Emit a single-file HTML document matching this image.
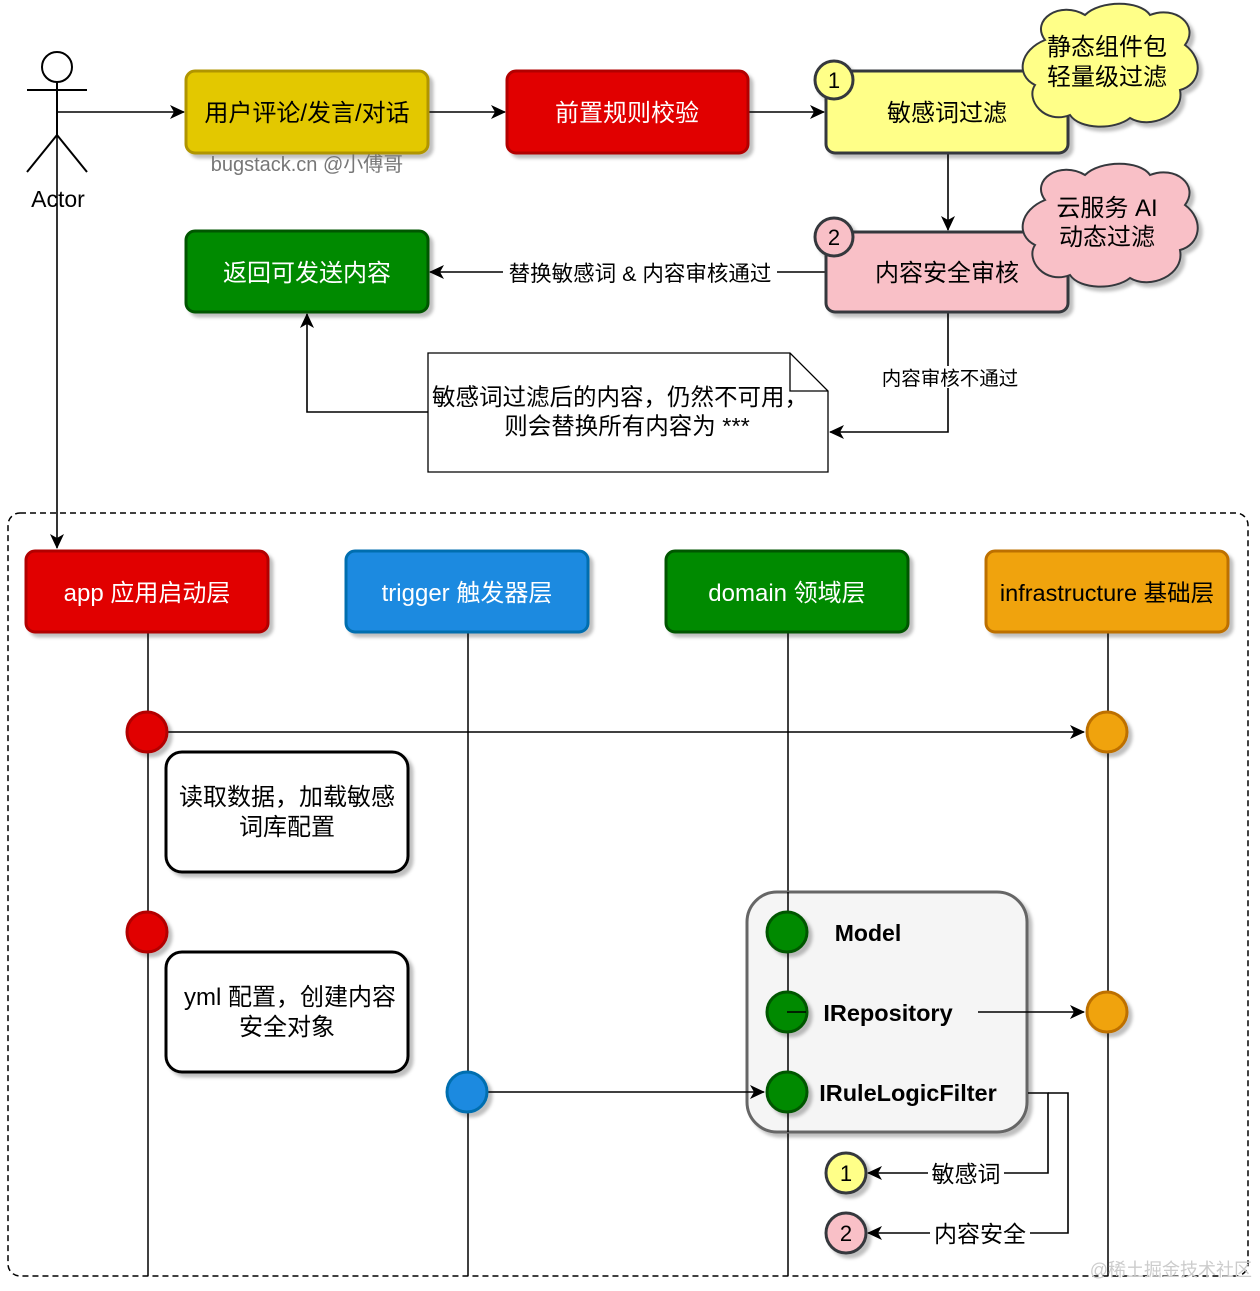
<!DOCTYPE html>
<html><head><meta charset="utf-8"><style>
body{margin:0;background:#fff}
text{font-family:"Liberation Sans","Noto Sans CJK SC",sans-serif}
</style></head><body>
<svg width="1260" height="1286" viewBox="0 0 1260 1286" xmlns="http://www.w3.org/2000/svg">
<defs>
<filter id="sh" x="-20%" y="-20%" width="150%" height="150%"><feDropShadow dx="4" dy="4" stdDeviation="1.5" flood-color="#000" flood-opacity="0.25"/></filter>
<marker id="ar" markerWidth="16" markerHeight="16" refX="14" refY="8" orient="auto" markerUnits="userSpaceOnUse"><path d="M0,1 L15,8 L0,15 L4,8 Z" fill="#000"/></marker>
</defs>
<g stroke="#000" stroke-width="2" fill="none">
<circle cx="57" cy="67" r="15" fill="#fff"/>
<line x1="57" y1="82" x2="57" y2="135"/>
<line x1="27" y1="90" x2="87" y2="90"/>
<line x1="57" y1="135" x2="27" y2="172"/>
<line x1="57" y1="135" x2="87" y2="172"/>
</g>
<text x="58" y="207" font-size="23" text-anchor="middle">Actor</text>
<g stroke="#000" stroke-width="1.6" fill="none">
<line x1="57" y1="112" x2="184" y2="112" marker-end="url(#ar)"/>
<line x1="57" y1="135" x2="57" y2="548" marker-end="url(#ar)"/>
<line x1="428" y1="112" x2="505" y2="112" marker-end="url(#ar)"/>
<line x1="748" y1="112" x2="824" y2="112" marker-end="url(#ar)"/>
<line x1="948" y1="153" x2="948" y2="230" marker-end="url(#ar)"/>
<line x1="826" y1="272" x2="430" y2="272" marker-end="url(#ar)"/>
<polyline points="948,312 948,432 830,432" marker-end="url(#ar)"/>
<polyline points="428,412 307,412 307,314" marker-end="url(#ar)"/>
</g>
<g filter="url(#sh)" stroke-width="3">
<rect x="186" y="71" width="242" height="82" rx="9" fill="#e3c800" stroke="#b09500"/>
<rect x="507" y="71" width="241" height="82" rx="9" fill="#e10000" stroke="#b20000"/>
<rect x="826" y="71" width="242" height="82" rx="9" fill="#ffff88" stroke="#36393d"/>
<rect x="826" y="232" width="242" height="80" rx="9" fill="#f9c0c7" stroke="#36393d"/>
<rect x="186" y="231" width="242" height="81" rx="9" fill="#008a00" stroke="#005700"/>
<path d="M1045,40 C1030,20 1060,0 1085,15 C1100,0 1140,0 1150,15 C1175,5 1200,25 1185,45 C1205,60 1200,85 1180,90 C1185,115 1150,130 1130,118 C1115,130 1080,130 1070,115 C1045,125 1025,100 1035,85 C1015,75 1020,50 1045,40 Z" fill="#ffff88" stroke="#36393d" stroke-width="2"/>
<path d="M1045,200 C1030,180 1060,160 1085,175 C1100,160 1140,160 1150,175 C1175,165 1200,185 1185,205 C1205,220 1200,245 1180,250 C1185,275 1150,290 1130,278 C1115,290 1080,290 1070,275 C1045,285 1025,260 1035,245 C1015,235 1020,210 1045,200 Z" fill="#f9c0c7" stroke="#36393d" stroke-width="2"/>
<circle cx="834" cy="80" r="19" fill="#ffff88" stroke="#36393d"/>
<circle cx="834" cy="237" r="19" fill="#f9c0c7" stroke="#36393d"/>
</g>
<text x="307" y="121" font-size="24" text-anchor="middle" fill="#000">用户评论/发言/对话</text>
<text x="307" y="171" font-size="20" text-anchor="middle" fill="#777">bugstack.cn @小傅哥</text>
<text x="627" y="121" font-size="24" text-anchor="middle" fill="#fff">前置规则校验</text>
<text x="947" y="121" font-size="24" text-anchor="middle">敏感词过滤</text>
<text x="947" y="281" font-size="24" text-anchor="middle">内容安全审核</text>
<text x="307" y="281" font-size="24" text-anchor="middle" fill="#fff">返回可发送内容</text>
<text x="1107" y="55" font-size="24" text-anchor="middle">静态组件包</text>
<text x="1107" y="85" font-size="24" text-anchor="middle">轻量级过滤</text>
<text x="1107" y="216" font-size="24" text-anchor="middle">云服务 AI</text>
<text x="1107" y="245" font-size="24" text-anchor="middle">动态过滤</text>
<text x="834" y="88" font-size="22" text-anchor="middle">1</text>
<text x="834" y="245" font-size="22" text-anchor="middle">2</text>
<rect x="503" y="260" width="274" height="26" fill="#fff"/>
<text x="640" y="281" font-size="21.5" text-anchor="middle">替换敏感词 &amp; 内容审核通过</text>
<rect x="878" y="366" width="142" height="22" fill="#fff"/>
<text x="950" y="385" font-size="19.5" text-anchor="middle">内容审核不通过</text>
<path d="M428,353 H790 L828,391 V472 H428 Z" fill="#fff" stroke="#000" stroke-width="1.3"/>
<path d="M790,353 V391 H828" fill="none" stroke="#000" stroke-width="1.3"/>
<text x="620" y="405" font-size="23.5" text-anchor="middle">敏感词过滤后的内容，仍然不可用，</text>
<text x="627" y="434" font-size="23.5" text-anchor="middle">则会替换所有内容为 ***</text>

<rect x="8" y="513" width="1240" height="763" rx="12" fill="none" stroke="#000" stroke-width="1.5" stroke-dasharray="6,4"/>
<g stroke="#000" stroke-width="1.5">
<line x1="148" y1="632" x2="148" y2="1276"/>
<line x1="468" y1="632" x2="468" y2="1276"/>
<line x1="788" y1="632" x2="788" y2="1276"/>
<line x1="1108" y1="632" x2="1108" y2="1276"/>
</g>
<g filter="url(#sh)" stroke-width="3">
<rect x="26" y="551" width="242" height="81" rx="9" fill="#e10000" stroke="#b20000"/>
<rect x="346" y="551" width="242" height="81" rx="9" fill="#1b8ae0" stroke="#006eaf"/>
<rect x="666" y="551" width="242" height="81" rx="9" fill="#008a00" stroke="#005700"/>
<rect x="986" y="551" width="242" height="81" rx="9" fill="#f0a30a" stroke="#bd7000"/>
<rect x="166" y="752" width="242" height="120" rx="16" fill="#fff" stroke="#000"/>
<rect x="166" y="952" width="242" height="120" rx="16" fill="#fff" stroke="#000"/>
<rect x="747" y="892" width="280" height="240" rx="30" fill="#f5f5f5" stroke="#666"/>
</g>
<text x="147" y="601" font-size="24" text-anchor="middle" fill="#fff">app 应用启动层</text>
<text x="467" y="601" font-size="24" text-anchor="middle" fill="#fff">trigger 触发器层</text>
<text x="787" y="601" font-size="24" text-anchor="middle" fill="#fff">domain 领域层</text>
<text x="1107" y="601" font-size="23.5" text-anchor="middle" fill="#000">infrastructure 基础层</text>
<text x="287" y="805" font-size="24" text-anchor="middle">读取数据，加载敏感</text>
<text x="287" y="835" font-size="24" text-anchor="middle">词库配置</text>
<text x="290" y="1005" font-size="24" text-anchor="middle">yml 配置，创建内容</text>
<text x="287" y="1035" font-size="24" text-anchor="middle">安全对象</text>
<line x1="788" y1="892" x2="788" y2="1132" stroke="#000" stroke-width="1.5"/>
<g stroke="#000" stroke-width="1.6" fill="none">
<line x1="168" y1="732" x2="1084" y2="732" marker-end="url(#ar)"/>
<line x1="488" y1="1092" x2="764" y2="1092" marker-end="url(#ar)"/>
<line x1="978" y1="1012" x2="1084" y2="1012" marker-end="url(#ar)"/>
<polyline points="1028,1093 1048,1093 1048,1173 868,1173" marker-end="url(#ar)"/>
<polyline points="1048,1093 1068,1093 1068,1233 868,1233" marker-end="url(#ar)"/>
</g>
<g filter="url(#sh)" stroke-width="3">
<circle cx="147" cy="732" r="20" fill="#e10000" stroke="#b20000"/>
<circle cx="147" cy="932" r="20" fill="#e10000" stroke="#b20000"/>
<circle cx="467" cy="1092" r="20" fill="#1b8ae0" stroke="#006eaf"/>
<circle cx="787" cy="932" r="20" fill="#008a00" stroke="#005700"/>
<circle cx="787" cy="1012" r="20" fill="#008a00" stroke="#005700"/>
<circle cx="787" cy="1092" r="20" fill="#008a00" stroke="#005700"/>
<circle cx="1107" cy="732" r="20" fill="#f0a30a" stroke="#bd7000"/>
<circle cx="1107" cy="1012" r="20" fill="#f0a30a" stroke="#bd7000"/>
<circle cx="846" cy="1173" r="20" fill="#ffff88" stroke="#36393d"/>
<circle cx="846" cy="1233" r="20" fill="#f9c0c7" stroke="#36393d"/>
</g>
<line x1="787" y1="1012" x2="806" y2="1012" stroke="#000" stroke-width="1.5"/>
<text x="868" y="941" font-size="23" font-weight="bold" text-anchor="middle">Model</text>
<text x="888" y="1021" font-size="23.5" font-weight="bold" text-anchor="middle">IRepository</text>
<text x="908" y="1101" font-size="23.5" font-weight="bold" text-anchor="middle">IRuleLogicFilter</text>
<text x="846" y="1181" font-size="22" text-anchor="middle">1</text>
<text x="846" y="1241" font-size="22" text-anchor="middle">2</text>
<rect x="928" y="1160" width="76" height="26" fill="#fff"/>
<text x="966" y="1182" font-size="23" text-anchor="middle">敏感词</text>
<rect x="930" y="1220" width="100" height="26" fill="#fff"/>
<text x="980" y="1242" font-size="23" text-anchor="middle">内容安全</text>
<text x="1252" y="1276" font-size="18" text-anchor="end" fill="#ccc">@稀土掘金技术社区</text>
</svg>
</body></html>
